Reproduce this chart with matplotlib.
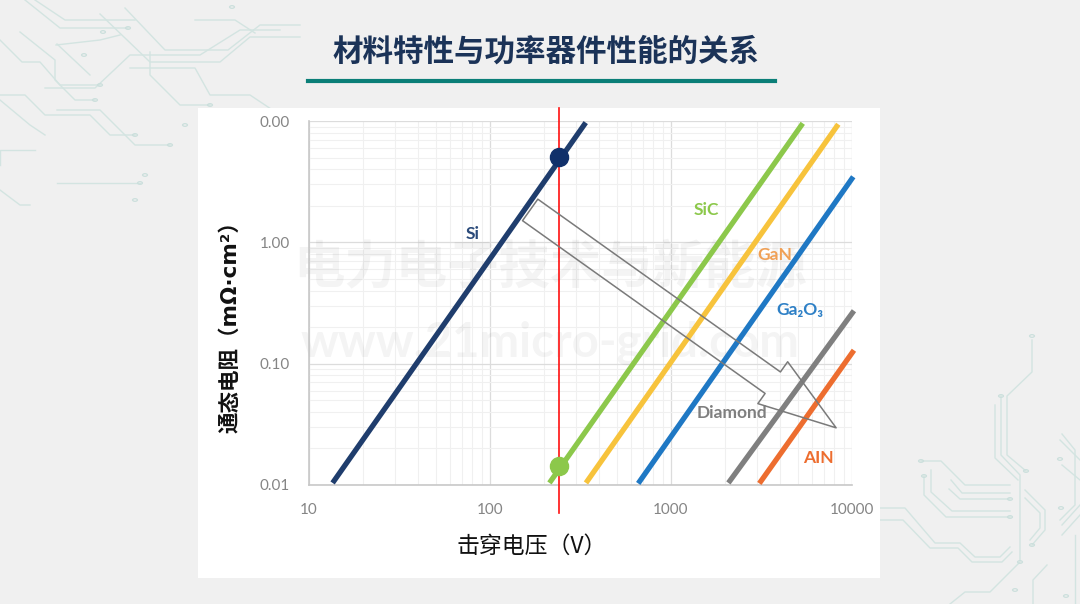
import matplotlib
matplotlib.use("Agg")
import matplotlib.pyplot as plt
from matplotlib.patches import Rectangle, FancyArrowPatch, Circle
from matplotlib.lines import Line2D
from matplotlib.ticker import FixedLocator, LogLocator, NullFormatter

plt.rcParams['font.family'] = ['Noto Sans CJK SC', 'DejaVu Sans']

# --- data ---
materials = ['Si', 'SiC', 'GaN', 'Ga₂O₃', 'Diamond', 'AlN']
label_text = ['Si', 'SiC', 'GaN', 'Ga₂O₃', 'Diamond', 'AIN']
v_start = [13.5, 213, 339, 659, 2075, 3077]
v_end = [338, 5346, 8400, 10160, 10250, 10250]
r_start = [0.0104, 0.0104, 0.0104, 0.0103, 0.0104, 0.0103]
r_end = [9.7, 9.57, 9.4, 3.47, 0.273, 0.129]
line_colors = ['#1f3d6d', '#8cc84b', '#f7c33c', '#1f78c4', '#7f7f7f', '#ed6d2f']
label_colors = ['#2a4a7a', '#8cc84b', '#f0a055', '#2e80c6', '#7f7f7f', '#ed6d2f']
label_v = [80, 1574, 3758, 5166, 2163, 6486]
label_r = [1.17, 1.845, 0.785, 0.277, 0.0394, 0.0167]

v_marker = 241.6
r_si_marker = 5.08
r_sic_marker = 0.0143

arrow_tail = (166.7, 1.85)
arrow_tip = (8170, 0.0296)

x_ticks = [10, 100, 1000, 10000]
x_ticklabels = ['10', '100', '1000', '10000']
y_ticks = [0.01, 0.1, 1, 10]
y_ticklabels = ['0.01', '0.10', '1.00', '0.00']

# faint circuit-board decoration on the slide background (pixel paths)
deco_paths = [
    [(25, 0), (60, 28), (128, 28)],
    [(35, 0), (65, 20), (135, 20)],
    [(0, 40), (22, 62), (40, 62), (60, 85), (100, 85)],
    [(20, 32), (55, 60), (55, 80), (75, 100), (95, 100)],
    [(57, 44), (90, 75)],
    [(100, 14), (150, 62), (220, 62), (250, 37), (300, 37)],
    [(125, 8), (165, 50), (228, 50), (260, 25), (300, 25)],
    [(56, 45), (100, 40), (120, 35)],
    [(57, 110), (100, 110), (135, 145), (170, 145)],
    [(130, 68), (195, 68), (210, 95), (250, 95), (280, 115), (320, 115)],
    [(150, 52), (150, 75), (180, 105), (210, 105)],
    [(0, 95), (25, 95), (45, 115), (90, 115), (110, 135), (135, 135)],
    [(0, 100), (30, 125), (45, 135)],
    [(0, 165), (0, 150), (35, 150)],
    [(45, 88), (95, 88), (130, 55), (200, 55), (240, 30), (280, 30)],
    [(195, 20), (235, 20), (255, 33)],
    [(57, 183), (140, 183)],
    [(0, 190), (20, 205), (30, 205)],
    [(1032, 340), (1032, 372), (1007, 396), (1007, 455), (1026, 471)],
    [(1001, 396), (1001, 455), (1020, 475), (1020, 560)],
    [(995, 405), (995, 458), (1018, 480)],
    [(921, 461), (941, 461), (965, 485), (1010, 485)],
    [(924, 476), (924, 495), (946, 517), (1010, 517)],
    [(931, 470), (931, 492), (952, 511), (1010, 511)],
    [(951, 480), (962, 493), (1010, 493)],
    [(949, 489), (960, 499), (1010, 499)],
    [(880, 508), (905, 508), (935, 543), (960, 543), (975, 557), (1000, 557), (1010, 547)],
    [(880, 520), (903, 520), (930, 548), (958, 548), (972, 562), (1002, 562), (1012, 552)],
    [(1025, 490), (1045, 510), (1045, 530), (1032, 545)],
    [(1025, 498), (1040, 513), (1040, 528), (1030, 540)],
    [(1062, 434), (1075, 450), (1075, 505), (1060, 520)],
    [(1060, 440), (1080, 460)],
    [(1062, 465), (1080, 480)],
    [(1062, 525), (1080, 505)],
    [(1062, 535), (1080, 515)],
    [(1020, 562), (990, 592), (965, 592), (950, 604)],
    [(1047, 565), (1033, 580), (1033, 604)],
    [(1075, 535), (1075, 604)],
]
deco_dots = [(128, 28), (100, 85), (95, 100), (170, 145), (320, 115), (210, 105),
             (135, 135), (140, 183), (103, 32), (135, 200), (84, 55), (145, 175),
             (185, 125), (232, 7), (1032, 336), (1001, 396), (1026, 471), (921, 461),
             (924, 476), (1010, 517), (1010, 499), (1032, 545), (1060, 459),
             (1061, 508), (1020, 562), (1015, 590), (1066, 596)]

fig = plt.figure(figsize=(10.8, 6.04), dpi=100)
fig.patch.set_facecolor('#f0f0f0')

for path in deco_paths:
    xs = [p[0] / 1080 for p in path]
    ys = [1 - p[1] / 604 for p in path]
    fig.lines.append(Line2D(xs, ys, transform=fig.transFigure, color='#d3e4e1',
                            lw=1.0, zorder=-6))
for (px, py) in deco_dots:
    fig.patches.append(Circle((px / 1080, 1 - py / 604), 0.0022, transform=fig.transFigure,
                              facecolor='none', edgecolor='#cbdfdc', lw=0.9, zorder=-6))

# white panel behind the chart
fig.patches.append(Rectangle((198 / 1080, 1 - 578 / 604), 682 / 1080, 470 / 604,
                             transform=fig.transFigure, facecolor='white',
                             edgecolor='none', zorder=-5))

# title and underline
fig.text(546 / 1080, 1 - 52 / 604, '材料特性与功率器件性能的关系', ha='center', va='center',
         fontsize=22, fontweight='heavy', color='#1b3358')
fig.lines.append(Line2D([308 / 1080, 775 / 1080], [1 - 81 / 604, 1 - 81 / 604],
                        transform=fig.transFigure, color='#0b7f78', lw=3))

ax = fig.add_axes([309 / 1080, 1 - 485 / 604, 543 / 1080, 364 / 604])
ax.set_facecolor('none')
ax.set_xscale('log')
ax.set_yscale('log')
ax.set_xlim(10, 10000)
ax.set_ylim(0.01, 10)

ax.xaxis.set_major_locator(FixedLocator(x_ticks))
ax.set_xticklabels(x_ticklabels)
ax.yaxis.set_major_locator(FixedLocator(y_ticks))
ax.set_yticklabels(y_ticklabels)
ax.xaxis.set_minor_locator(LogLocator(base=10, subs=range(2, 10)))
ax.yaxis.set_minor_locator(LogLocator(base=10, subs=range(2, 10)))
ax.xaxis.set_minor_formatter(NullFormatter())
ax.yaxis.set_minor_formatter(NullFormatter())
ax.tick_params(which='both', length=0)
ax.tick_params(axis='x', pad=13, labelsize=11, labelcolor='#858585')
ax.tick_params(axis='y', pad=14, labelsize=11, labelcolor='#858585')
for lab in ax.get_xticklabels() + ax.get_yticklabels():
    lab.set_family(['Lato', 'DejaVu Sans'])

ax.grid(which='major', color='#dcdcdc', lw=0.9)
ax.grid(which='minor', color='#f0f0f0', lw=0.8)
for side in ['top', 'right']:
    ax.spines[side].set_visible(False)
for side in ['left', 'bottom']:
    ax.spines[side].set_color('#c8c8c8')
    ax.spines[side].set_linewidth(1.2)

# watermark
ax.text(550 / 1080, 1 - 268 / 604, '电力电子技术与新能源', transform=fig.transFigure,
        ha='center', va='center', fontsize=37, fontweight='bold', color='#000000',
        alpha=0.045, zorder=1.6)
ax.text(550 / 1080, 1 - 343 / 604, 'www.21micro-grid.com', transform=fig.transFigure,
        ha='center', va='center', fontsize=34, fontweight='bold', color='#000000',
        alpha=0.045, zorder=1.6, family=['Lato', 'DejaVu Sans'])

for i, name in enumerate(materials):
    ax.plot([v_start[i], v_end[i]], [r_start[i], r_end[i]], color=line_colors[i],
            lw=3.8, solid_capstyle='butt', clip_on=False, zorder=3)
    ax.text(label_v[i], label_r[i], label_text[i], color=label_colors[i],
            ha='center', va='center', fontsize=12.5, fontweight='bold',
            family=['Lato', 'DejaVu Sans'], zorder=4)

# red reference line and markers
ax.axvline(v_marker, ymin=-0.077, ymax=1.036, color='#ff1010', lw=1.2,
           clip_on=False, zorder=3.5)
ax.plot([v_marker], [r_si_marker], 'o', color='#10306a', ms=13, zorder=5, clip_on=False)
ax.plot([v_marker], [r_sic_marker], 'o', color='#8cc84b', ms=13, zorder=5, clip_on=False)

# hollow improvement arrow
arrow = FancyArrowPatch(arrow_tail, arrow_tip,
                        arrowstyle='simple,head_length=0.56,head_width=0.37,tail_width=0.19',
                        mutation_scale=100, shrinkA=0, shrinkB=0,
                        facecolor='none', edgecolor='#7a7a7a', lw=1.1, zorder=4.5)
ax.add_patch(arrow)

fig.text(532 / 1080, 1 - 546 / 604, '击穿电压（V）', ha='center', va='center',
         fontsize=16.5, fontweight='medium', color='#111111')
fig.text(230 / 1080, 1 - 322 / 604, '通态电阻（mΩ·cm²）', ha='center', va='center',
         rotation=90, fontsize=15.5, fontweight='bold', color='#111111',
         family=['DejaVu Sans', 'Noto Sans CJK SC'])

fig.savefig('out.png', dpi=100, facecolor=fig.get_facecolor())
